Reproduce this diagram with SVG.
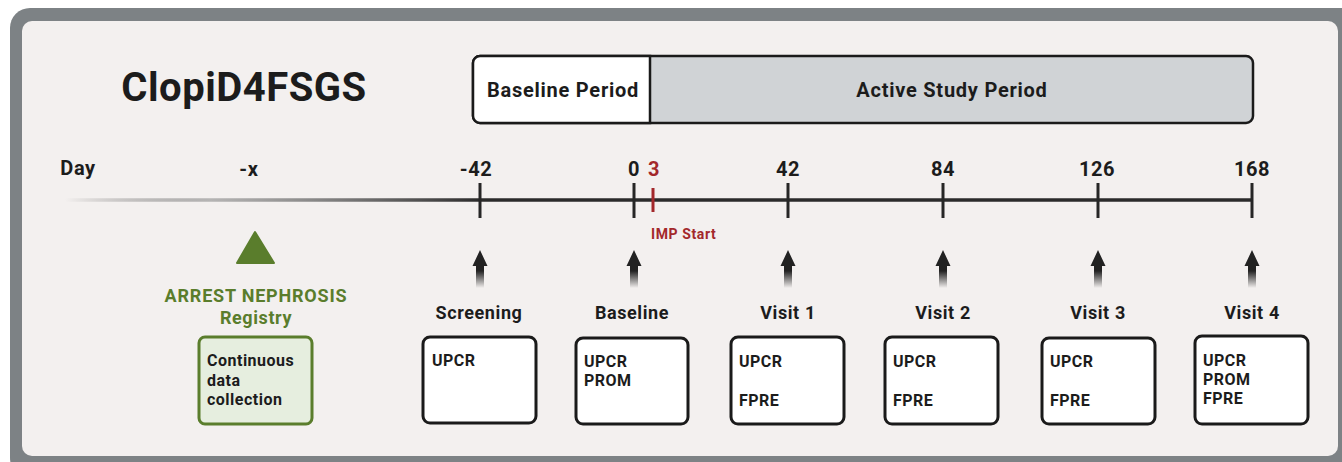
<svg xmlns="http://www.w3.org/2000/svg" width="1342" height="462" viewBox="0 0 1342 462">
  <defs>
    <style>
      text { font-family: Roboto, "Liberation Sans", Arial, sans-serif; font-weight: 700; fill: #1c1c1c; letter-spacing: 0.6px; }
      .title { font-size: 40px; letter-spacing: 0.5px; }
      .period { font-size: 20px; text-anchor: middle; letter-spacing: 0.75px; }
      .day { font-size: 20px; text-anchor: middle; }
      .visit { font-size: 18px; text-anchor: middle; }
      .item { font-size: 16px; letter-spacing: 0.5px; }
      .red { fill: #a3282b; }
      .green { fill: #5a7d2c; }
      .tick { stroke: #262626; stroke-width: 3; }
      .box { fill: #ffffff; stroke: #1a1a1a; stroke-width: 3; }
    </style>
    <linearGradient id="axisFade" x1="65" y1="0" x2="480" y2="0" gradientUnits="userSpaceOnUse">
      <stop offset="0" stop-color="#2b2b2b" stop-opacity="0"/>
      <stop offset="0.35" stop-color="#9a9a9a" stop-opacity="0.7"/>
      <stop offset="1" stop-color="#2b2b2b"/>
    </linearGradient>
    <linearGradient id="shaftFade" x1="0" y1="0" x2="0" y2="1">
      <stop offset="0.55" stop-color="#222222"/>
      <stop offset="1" stop-color="#222222" stop-opacity="0"/>
    </linearGradient>
    <!-- upward visit arrow, tip at origin -->
    <path id="upArrow" d="M0 0 L7.5 16 L4 16 L4 38 L-4 38 L-4 16 L-7.5 16 Z" fill="url(#shaftFade)"/>
  </defs>

  <!-- frame -->
  <rect x="10" y="8" width="1350" height="470" rx="20" fill="#7d8285"/>
  <rect x="22" y="21" width="1316" height="435" rx="10" fill="#f3f0ef"/>

  <g id="title">
    <text class="title" x="244" y="101" text-anchor="middle">ClopiD4FSGS</text>
  </g>

  <g id="periods">
    <rect x="473" y="56" width="780" height="67" rx="7" fill="#d0d3d6" stroke="#1a1a1a" stroke-width="2.5"/>
    <path d="M650 56 H480 A7 7 0 0 0 473 63 V116 A7 7 0 0 0 480 123 H650 Z" fill="#ffffff" stroke="#1a1a1a" stroke-width="2.5"/>
    <text class="period" x="563" y="97">Baseline Period</text>
    <text class="period" x="952" y="97">Active Study Period</text>
  </g>

  <g id="axis">
    <line x1="65" y1="200" x2="480" y2="200" stroke="url(#axisFade)" stroke-width="3.5"/>
    <line x1="480" y1="200" x2="1252" y2="200" stroke="#2b2b2b" stroke-width="3.5"/>
    <line class="tick" x1="480" y1="183" x2="480" y2="218"/>
    <line class="tick" x1="634" y1="183" x2="634" y2="218"/>
    <line x1="653" y1="188" x2="653" y2="212" stroke="#a3282b" stroke-width="3"/>
    <line class="tick" x1="788" y1="183" x2="788" y2="218"/>
    <line class="tick" x1="943" y1="183" x2="943" y2="218"/>
    <line class="tick" x1="1098" y1="183" x2="1098" y2="218"/>
    <line class="tick" x1="1252" y1="183" x2="1252" y2="218"/>
  </g>

  <g id="day-labels">
    <text class="day" x="78" y="175">Day</text>
    <text class="day" x="249" y="176">-x</text>
    <text class="day" x="476" y="176">-42</text>
    <text class="day" x="634" y="176">0</text>
    <text class="day red" x="654" y="176">3</text>
    <text class="day" x="788" y="176">42</text>
    <text class="day" x="943" y="176">84</text>
    <text class="day" x="1097" y="176">126</text>
    <text class="day" x="1252" y="176">168</text>
    <text class="red" x="651" y="239" font-size="14">IMP Start</text>
  </g>

  <g id="connectors">
    <use href="#upArrow" x="480" y="250"/>
    <use href="#upArrow" x="634" y="250"/>
    <use href="#upArrow" x="788" y="250"/>
    <use href="#upArrow" x="943" y="250"/>
    <use href="#upArrow" x="1098" y="250"/>
    <use href="#upArrow" x="1252" y="250"/>
  </g>

  <g id="registry">
    <path d="M255 232 L274 263 L237 263 Z" fill="#5a7d2c" stroke="#5a7d2c" stroke-width="2" stroke-linejoin="round"/>
    <text class="green" x="256" y="302" font-size="18" text-anchor="middle" style="letter-spacing:0.8px">ARREST NEPHROSIS</text>
    <text class="green" x="256" y="324" font-size="18" text-anchor="middle">Registry</text>
    <rect x="199" y="337" width="113" height="87" rx="6" fill="#e6eedf" stroke="#5a7d2c" stroke-width="3"/>
    <text class="item" x="207" y="366">Continuous</text>
    <text class="item" x="207" y="386">data</text>
    <text class="item" x="207" y="405">collection</text>
  </g>

  <g id="screening">
    <text class="visit" x="479" y="319">Screening</text>
    <rect class="box" x="423" y="337" width="113" height="86" rx="7"/>
    <text class="item" x="432" y="366">UPCR</text>
  </g>

  <g id="baseline">
    <text class="visit" x="632" y="319">Baseline</text>
    <rect class="box" x="576" y="338" width="112" height="86" rx="7"/>
    <text class="item" x="584" y="367">UPCR</text>
    <text class="item" x="584" y="386">PROM</text>
  </g>

  <g id="visit1">
    <text class="visit" x="788" y="319">Visit 1</text>
    <rect class="box" x="731" y="337" width="113" height="87" rx="7"/>
    <text class="item" x="739" y="367">UPCR</text>
    <text class="item" x="739" y="406">FPRE</text>
  </g>

  <g id="visit2">
    <text class="visit" x="943" y="319">Visit 2</text>
    <rect class="box" x="885" y="337" width="113" height="87" rx="7"/>
    <text class="item" x="893" y="367">UPCR</text>
    <text class="item" x="893" y="406">FPRE</text>
  </g>

  <g id="visit3">
    <text class="visit" x="1098" y="319">Visit 3</text>
    <rect class="box" x="1042" y="338" width="113" height="86" rx="7"/>
    <text class="item" x="1050" y="367">UPCR</text>
    <text class="item" x="1050" y="406">FPRE</text>
  </g>

  <g id="visit4">
    <text class="visit" x="1252" y="319">Visit 4</text>
    <rect class="box" x="1195" y="336" width="113" height="88" rx="7"/>
    <text class="item" x="1203" y="366">UPCR</text>
    <text class="item" x="1203" y="385">PROM</text>
    <text class="item" x="1203" y="404">FPRE</text>
  </g>
</svg>
